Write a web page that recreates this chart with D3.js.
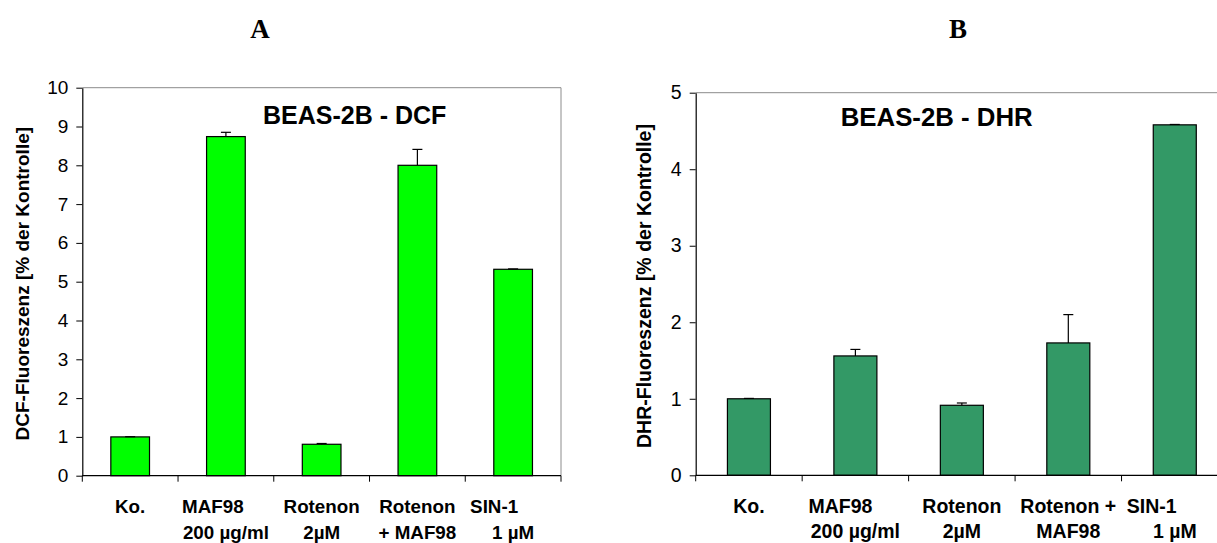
<!DOCTYPE html>
<html><head><meta charset="utf-8">
<script src="https://cdn.jsdelivr.net/npm/d3@7"></script>
<style>
html,body{margin:0;padding:0;background:#fff;}
</style></head>
<body>
<svg id="c" width="1217" height="543"></svg>
<script>
// ---- data ----
const categoriesA = [["Ko."], ["MAF98", "200 µg/ml"], ["Rotenon", "2µM"], ["Rotenon", "+ MAF98"], ["SIN-1", "1 µM"]];
const valuesA = [1.0, 8.74, 0.81, 8.0, 5.32];
const errorsA = [0.005, 0.11, 0.02, 0.41, 0.01];
const ticksA = [0, 1, 2, 3, 4, 5, 6, 7, 8, 9, 10];

const categoriesB = [["Ko."], ["MAF98", "200 µg/ml"], ["Rotenon", "2µM"], ["Rotenon +", "MAF98"], ["SIN-1", "1 µM"]];
const valuesB = [1.0, 1.56, 0.915, 1.73, 4.58];
const errorsB = [0.005, 0.085, 0.03, 0.37, 0.005];
const ticksB = [0, 1, 2, 3, 4, 5];

const svg = d3.select("#c");

function panel(o) {
  const g = svg.append("g");
  const n = o.cats.length;
  const x = d3.scaleBand().domain(d3.range(n)).range([o.left, o.right]).padding(0);
  const y = d3.scaleLinear().domain([0, o.max]).range([o.bottom, o.top]);
  const bw = x.bandwidth() * 0.404;

  // frame (gray top/right)
  g.append("line").attr("x1", o.left).attr("x2", o.right).attr("y1", y(o.max)).attr("y2", y(o.max))
    .attr("stroke", "#8c8c8c").attr("stroke-width", 1);
  g.append("line").attr("x1", o.right).attr("x2", o.right).attr("y1", y(o.max)).attr("y2", y(0))
    .attr("stroke", "#8c8c8c").attr("stroke-width", 1);

  // bars
  g.selectAll("rect.bar").data(o.values).join("rect")
    .attr("x", (d, i) => x(i) + x.bandwidth() / 2 - bw / 2)
    .attr("y", d => y(d))
    .attr("width", bw)
    .attr("height", d => y(0) - y(d))
    .attr("fill", o.color).attr("stroke", "#000").attr("stroke-width", 1.2);

  // error bars
  const eg = g.append("g").attr("stroke", "#000").attr("stroke-width", 1.2);
  o.values.forEach((v, i) => {
    const cx = x(i) + x.bandwidth() / 2;
    eg.append("line").attr("x1", cx).attr("x2", cx).attr("y1", y(v)).attr("y2", y(v + o.errors[i]));
    eg.append("line").attr("x1", cx - 5).attr("x2", cx + 5).attr("y1", y(v + o.errors[i])).attr("y2", y(v + o.errors[i]));
  });

  // y axis
  const ya = d3.axisLeft(y).tickValues(o.ticks).tickFormat(d3.format("d")).tickSizeInner(6).tickSizeOuter(0).tickPadding(8);
  const yg = g.append("g").attr("transform", `translate(${o.left},0)`).call(ya);
  yg.select(".domain").attr("stroke", "#000").attr("stroke-width", 1.2);
  yg.selectAll(".tick line").attr("stroke", "#000");
  yg.selectAll(".tick text").attr("font-family", "Liberation Sans, Arial, sans-serif")
    .attr("font-size", o.tickSize).attr("fill", "#000");

  // x axis baseline + ticks at band edges
  g.append("line").attr("x1", o.left).attr("x2", o.right).attr("y1", y(0)).attr("y2", y(0))
    .attr("stroke", "#000").attr("stroke-width", 1.2);
  const edges = d3.range(n).map(i => x(i)).concat([x.range()[1]]);
  g.selectAll("line.xt").data(edges).join("line")
    .attr("x1", d => d).attr("x2", d => d).attr("y1", y(0)).attr("y2", y(0) + 6)
    .attr("stroke", "#000").attr("stroke-width", 1);

  // category labels
  const lab = g.append("g").attr("font-family", "Liberation Sans, Arial, sans-serif")
    .attr("font-weight", "bold").attr("font-size", o.labSize).attr("text-anchor", "middle");
  o.cats.forEach((lines, i) => {
    const cx = x(i) + x.bandwidth() / 2;
    lines.forEach((t, k) => {
      lab.append("text").attr("x", cx + (k === 0 ? o.firstLineShift[i] : 0))
        .attr("y", y(0) + 37.5 + k * 25.5).text(t);
    });
  });

  // y label
  g.append("text")
    .attr("transform", `translate(${o.ylabX},${(o.top + o.bottom) / 2 + 2}) rotate(-90)`)
    .attr("text-anchor", "middle").attr("font-family", "Liberation Sans, Arial, sans-serif")
    .attr("font-weight", "bold").attr("font-size", o.ylabSize).text(o.ylab);

  // inner title
  g.append("text").attr("x", o.titleX).attr("y", o.titleY)
    .attr("font-family", "Liberation Sans, Arial, sans-serif").attr("font-weight", "bold")
    .attr("font-size", o.titleSize).text(o.title);

  // panel letter
  g.append("text").attr("x", o.letterX).attr("y", 38).attr("text-anchor", "middle")
    .attr("font-family", "Liberation Serif, Times New Roman, serif").attr("font-weight", "bold")
    .attr("font-size", 27).text(o.letter);
}

panel({
  cats: categoriesA, values: valuesA, errors: errorsA, ticks: ticksA, max: 10,
  left: 82.3, right: 561, top: 87.7, bottom: 475.7, color: "#00ff00",
  tickSize: 19, labSize: 18.8, ylabSize: 19, ylabX: 28.5,
  firstLineShift: [0, -13, 0, 0, -19],
  ylab: "DCF-Fluoreszenz [% der Kontrolle]",
  title: "BEAS-2B - DCF", titleX: 263, titleY: 124, titleSize: 25,
  letter: "A", letterX: 260
});
panel({
  cats: categoriesB, values: valuesB, errors: errorsB, ticks: ticksB, max: 5,
  left: 695.7, right: 1228, top: 92.7, bottom: 475.3, color: "#339966",
  tickSize: 19.5, labSize: 19.5, ylabSize: 19.5, ylabX: 651,
  firstLineShift: [0, -15, 0, 0, -23],
  ylab: "DHR-Fluoreszenz [% der Kontrolle]",
  title: "BEAS-2B - DHR", titleX: 840.7, titleY: 125.5, titleSize: 25.8,
  letter: "B", letterX: 958
});
</script>
</body></html>
